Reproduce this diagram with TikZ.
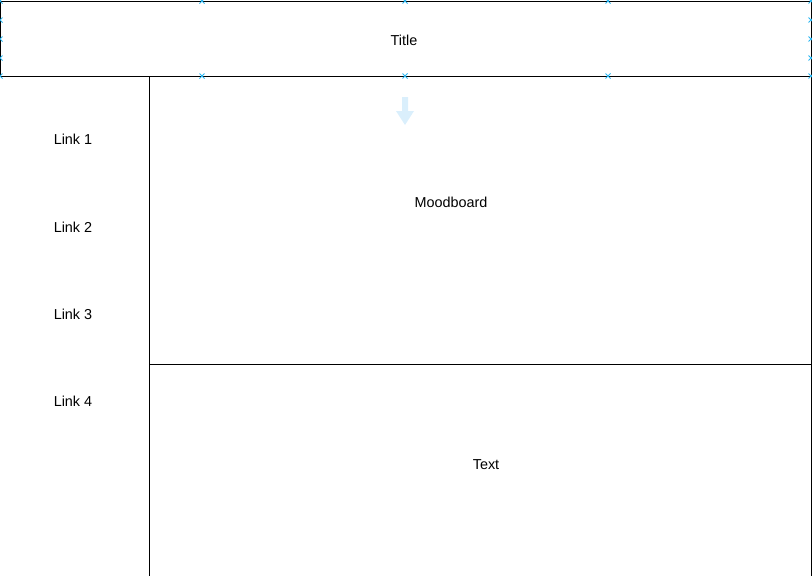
\documentclass[tikz,border=0pt]{standalone}
\usepackage{fontspec}
\setmainfont{Liberation Sans}
\usetikzlibrary{positioning}

\definecolor{handleblue}{RGB}{41,182,242}
\definecolor{hintblue}{RGB}{218,239,252}

\tikzset{
  panel/.style={draw=black, line width=1.2pt, inner sep=0pt, anchor=north west},
  label/.style={font=\fontsize{14.4}{16}\selectfont, text=black},
  handle/.style={draw=handleblue, line width=1pt},
}

\begin{document}
\begin{tikzpicture}[x=1pt,y=-1pt]
        \useasboundingbox (0,0) rectangle (812,576);

        % Page frame
        \node[panel, minimum width=811pt, minimum height=75pt] (title) at (0,1) {};
        \node[panel, minimum width=662pt, minimum height=288pt] (mood) at (149,76) {};
        \node[panel, minimum width=662pt, minimum height=214pt] (body) at (149,364) {};

        \node[label] at (404,40) {Title};
        \node[label] at (451,202) {Moodboard};
        \node[label] at (486,465) {Text};

        % Navigation links
        \node[label] (link1) at (73,139.5) {Link 1};
        \node[label, below=87.4pt of link1.center, anchor=center] (link2) {Link 2};
        \node[label, below=87.4pt of link2.center, anchor=center] (link3) {Link 3};
        \node[label, below=87.4pt of link3.center, anchor=center] (link4) {Link 4};

        % Selection handles
          \foreach \x in {0,202,405,608,811} {
            \foreach \y in {1,76} {
              \draw[handle] (\x-2.5,\y-2.5) -- (\x+2.5,\y+2.5) (\x-2.5,\y+2.5) -- (\x+2.5,\y-2.5);
            }
          }
          \foreach \x in {0,811} {
            \foreach \y in {20,39,58} {
              \draw[handle] (\x-2.5,\y-2.5) -- (\x+2.5,\y+2.5) (\x-2.5,\y+2.5) -- (\x+2.5,\y-2.5);
            }
          }

        % Drop hint
        \fill[hintblue] (402,97) -- (408,97) -- (408,111) -- (414,111)
          -- (405,125) -- (396,111) -- (402,111) -- cycle;
\end{tikzpicture}
\end{document}
